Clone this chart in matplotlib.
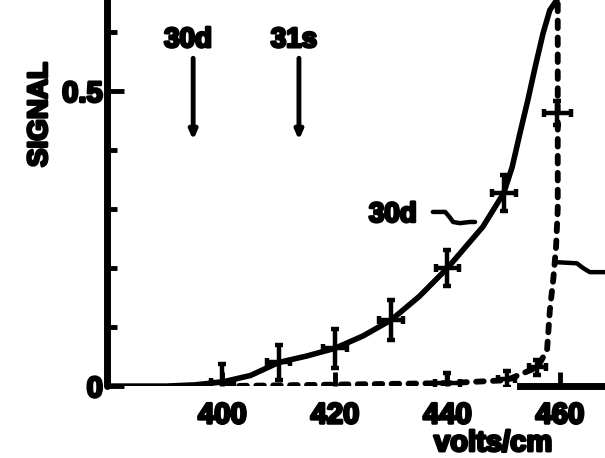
import matplotlib
matplotlib.use("Agg")
import matplotlib.pyplot as plt
import matplotlib.patheffects as pe
import numpy as np

curve_30d_x = [379.5, 390, 395, 400, 405, 410, 415, 420, 425, 430, 435, 440, 446.3,
               450, 451.5, 452.9, 454.3, 455.6, 457.0, 458.2, 459.5, 460.0]
curve_30d_y = [0.0, 0.0, 0.002, 0.007, 0.018, 0.04, 0.051, 0.064, 0.085, 0.112, 0.152,
               0.2, 0.27, 0.327, 0.371, 0.429, 0.485, 0.541, 0.598, 0.637, 0.655, 0.67]
pts_30d_x = [400, 410, 420, 430, 440, 450]
pts_30d_y = [0.007, 0.04, 0.064, 0.112, 0.2, 0.327]
pts_30d_yerr = [0.03, 0.03, 0.033, 0.034, 0.031, 0.031]
pts_30d_xerr = [2.1, 2.1, 2.1, 2.1, 2.1, 2.1]

# 31s state: dashed curve and its points
curve_31s_x = [400, 440, 450.5, 456, 457.7, 458.2, 458.8, 459.3, 459.6, 459.6]
curve_31s_y = [0.0, 0.005, 0.01, 0.032, 0.061, 0.129, 0.18, 0.236, 0.3, 0.7]
pts_31s_x = [440, 450.5, 456, 459.5]
pts_31s_y = [0.005, 0.012, 0.032, 0.463]
pts_31s_yerr = [0.017, 0.013, 0.013, 0.02]
pts_31s_xerr = [2.2, 1.5, 1.5, 2.4]

# leader lines for the curve labels
lead_30d_x = [437.4, 439.6, 440.4, 441.0, 442.2, 444.0, 444.9]
lead_30d_y = [0.295, 0.295, 0.286, 0.278, 0.276, 0.278, 0.278]
lead_31s_x = [459.1, 463.0, 464.1, 465.3, 467.6, 468.5]
lead_31s_y = [0.210, 0.208, 0.200, 0.193, 0.193, 0.193]

xticks = [400, 420, 440, 460]
yticks = [0, 0.5]
yminor = [0.1, 0.2, 0.3, 0.4, 0.6]

plt.rcParams['font.family'] = ['Liberation Sans', 'DejaVu Sans']
plt.rcParams['font.weight'] = 'bold'
thick = [pe.withStroke(linewidth=2.0, foreground='black')]

fig = plt.figure(figsize=(6.05, 4.58), dpi=100)
ax = fig.add_axes([0.177, 0.157, 0.823, 0.843])
ax.set_xlim(379.5, 468)
ax.set_ylim(0, 0.654)

ax.plot(curve_30d_x, curve_30d_y, color='black', lw=4, solid_capstyle='round',
        solid_joinstyle='round')
ax.errorbar(pts_30d_x, pts_30d_y, xerr=pts_30d_xerr, yerr=pts_30d_yerr, fmt='none',
            ecolor='black', elinewidth=3.2, capsize=3, capthick=3.2)

ax.plot(curve_31s_x, curve_31s_y, color='black', lw=4.2, dashes=(1.3, 1.6),
        dash_capstyle='round')
ax.errorbar(pts_31s_x, pts_31s_y, xerr=pts_31s_xerr, yerr=pts_31s_yerr, fmt='none',
            ecolor='black', elinewidth=3.2, capsize=3, capthick=3.2)

ax.plot(lead_30d_x, lead_30d_y, color='black', lw=3.2, solid_capstyle='round')
ax.plot(lead_31s_x, lead_31s_y, color='black', lw=3.2, solid_capstyle='round',
        clip_on=False)
ax.text(430.3, 0.29, '30d', fontsize=20, ha='center', va='center', path_effects=thick)

# markers at the top
for xa, lab in [(394.8, '30d'), (413.6, '31s')]:
    ax.annotate('', xy=(xa, 0.412), xytext=(xa, 0.56),
                arrowprops=dict(arrowstyle='-|>,head_length=0.5,head_width=0.22',
                                color='black', lw=3.5))
    ax.text(xa - 0.9, 0.586, lab, fontsize=20, ha='center', va='center',
            path_effects=thick)

# axes styling
for s in ['top', 'right']:
    ax.spines[s].set_visible(False)
ax.spines['left'].set_linewidth(5)
ax.spines['bottom'].set_linewidth(5)
ax.spines['bottom'].set_bounds(452.9, 468)
ax.spines['left'].set_capstyle('round')

ax.set_xticks(xticks)
ax.set_xticklabels([str(t) for t in xticks])
ax.set_yticks(yticks)
ax.set_yticklabels(['0', '0.5'])
ax.set_yticks(yminor, minor=True)
ax.tick_params(axis='x', direction='in', length=10, width=3.5, pad=11, labelsize=21)
ax.tick_params(axis='y', which='major', direction='in', length=12, width=3.5, pad=3,
               labelsize=21)
ax.tick_params(axis='y', which='minor', direction='in', length=7, width=3.5)
for lbl in ax.get_xticklabels() + ax.get_yticklabels():
    lbl.set_path_effects(thick)

fig.text(0.066, 0.75, 'SIGNAL', rotation=90, fontsize=20, ha='center', va='center',
         path_effects=thick)
fig.text(0.815, 0.002, 'volts/cm', fontsize=21, ha='center', va='bottom',
         path_effects=thick)

fig.savefig('out.png', dpi=100)
